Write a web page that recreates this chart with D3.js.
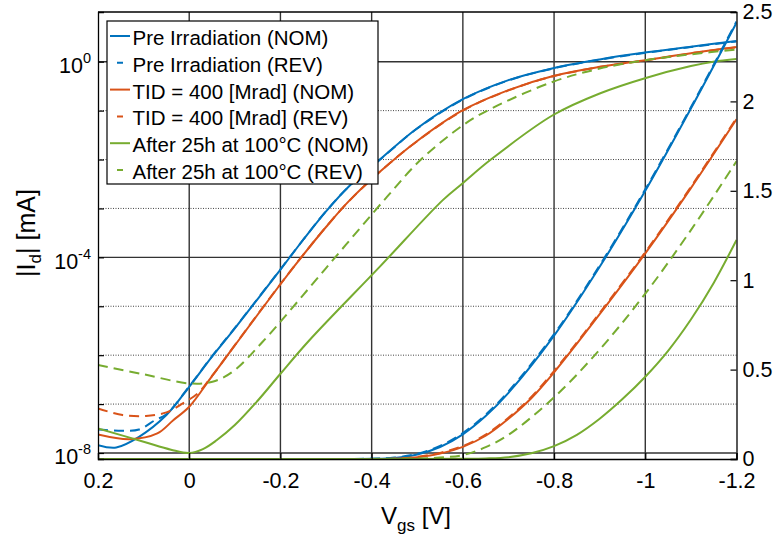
<!DOCTYPE html>
<html>
<head>
<meta charset="utf-8">
<script src="https://cdn.jsdelivr.net/npm/d3@7"></script>
<style>
  body { margin: 0; background: #fff; }
  svg text { font-family: "Liberation Sans", Arial, Helvetica, sans-serif; fill: #000; }
</style>
</head>
<body>
<svg id="chart" width="777" height="540"></svg>
<script>
// ---- data (Vgs in V, Id in mA) ----
var xTicks = [0.2, 0, -0.2, -0.4, -0.6, -0.8, -1, -1.2];
var logTicks = [1e0, 1e-4, 1e-8];
var logMinor = [1e-1, 1e-2, 1e-3, 1e-5, 1e-6, 1e-7];
var linTicks = [0, 0.5, 1, 1.5, 2, 2.5];

var legendLabels = [
  'Pre Irradiation (NOM)',
  'Pre Irradiation (REV)',
  'TID = 400 [Mrad] (NOM)',
  'TID = 400 [Mrad] (REV)',
  'After 25h at 100\u00B0C (NOM)',
  'After 25h at 100\u00B0C (REV)'
];

// log scale (left axis)
var vPreNomLog = [0.2, 0.16, 0.11, 0.05, 0.0, -0.05, -0.1, -0.2, -0.25, -0.3, -0.35, -0.418, -0.5, -0.601, -0.7, -0.798, -0.9, -1.003, -1.1, -1.2];
var iPreNomLog = [1.45e-8, 1.30e-8, 2.14e-8, 5.96e-8, 2.26e-7, 9.33e-7, 3.55e-6, 5.62e-5, 2.29e-4, 8.71e-4, 2.82e-3, 1.0e-2, 4.37e-2, 0.173, 0.42, 0.738, 1.114, 1.552, 2.03, 2.64];

var vPreRevLog = [0.2, 0.146, 0.11, 0.075, 0.05, 0.0, -0.05, -0.1, -0.2, -0.25, -0.3, -0.35, -0.418, -0.5, -0.601, -0.7, -0.798, -0.9, -1.003, -1.1, -1.2];
var iPreRevLog = [3.02e-8, 2.84e-8, 3.02e-8, 4.68e-8, 6.2e-8, 2.3e-7, 9.5e-7, 3.6e-6, 5.7e-5, 2.3e-4, 8.8e-4, 2.8e-3, 9.9e-3, 4.3e-2, 0.170, 0.414, 0.728, 1.10, 1.53, 2.0, 2.60];

var vTidNomLog = [0.2, 0.13, 0.07, 0.035, 0.0, -0.05, -0.1, -0.2, -0.25, -0.3, -0.35, -0.418, -0.5, -0.601, -0.7, -0.798, -0.9, -1.003, -1.1, -1.2];
var iTidNomLog = [2.40e-8, 1.92e-8, 2.51e-8, 4.68e-8, 8.81e-8, 3.72e-7, 1.58e-6, 2.82e-5, 1.12e-4, 4.17e-4, 1.41e-3, 5.62e-3, 2.40e-2, 0.103, 0.263, 0.511, 0.785, 1.084, 1.496, 1.995];

var vTidRevLog = [0.2, 0.146, 0.095, 0.05, 0.015, -0.02, -0.05, -0.1, -0.2, -0.25, -0.3, -0.35, -0.418, -0.5, -0.601, -0.7, -0.798, -0.9, -1.003, -1.1, -1.2];
var iTidRevLog = [8.13e-8, 5.96e-8, 5.69e-8, 6.76e-8, 1.02e-7, 1.70e-7, 3.76e-7, 1.6e-6, 2.85e-5, 1.13e-4, 4.2e-4, 1.4e-3, 5.6e-3, 2.38e-2, 0.101, 0.259, 0.503, 0.776, 1.07, 1.48, 1.97];

var vAftNomLog = [0.2, 0.1, 0.04, 0.0, -0.03, -0.06, -0.1, -0.15, -0.2, -0.264, -0.418, -0.556, -0.601, -0.66, -0.798, -0.9, -1.003, -1.1, -1.149, -1.2];
var iAftNomLog = [3.18e-8, 1.70e-8, 1.17e-8, 1.0e-8, 1.20e-8, 1.82e-8, 3.72e-8, 1.17e-7, 4.17e-7, 2.04e-6, 6.46e-5, 1.48e-3, 3.36e-3, 9.77e-3, 8.13e-2, 0.224, 0.471, 0.813, 1.0, 1.135];

var vAftRevLog = [0.2, 0.1, 0.0, -0.051, -0.095, -0.161, -0.3, -0.434, -0.507, -0.601, -0.659, -0.798, -0.9, -1.003, -1.1, -1.2];
var iAftRevLog = [6.28e-7, 4.07e-7, 2.65e-7, 2.86e-7, 4.57e-7, 1.88e-6, 6.03e-5, 1.74e-3, 9.77e-3, 5.08e-2, 0.106, 0.390, 0.724, 1.084, 1.413, 1.778];

// linear scale (right axis)
var vPreLin = [0.2, -0.2, -0.4, -0.45, -0.5, -0.55, -0.6, -0.65, -0.7, -0.8, -0.9, -1.0, -1.1, -1.2];
var iPreNomLin = [0, 0, 0.001, 0.006, 0.025, 0.067, 0.138, 0.24, 0.37, 0.69, 1.075, 1.50, 1.96, 2.44];
var iPreRevLin = [0, 0, 0.002, 0.008, 0.029, 0.073, 0.145, 0.248, 0.378, 0.698, 1.083, 1.508, 1.967, 2.447];

var vTidLin = [0.2, -0.2, -0.45, -0.5, -0.55, -0.6, -0.65, -0.7, -0.75, -0.8, -0.9, -1.0, -1.1, -1.2];
var iTidNomLin = [0, 0, 0.001, 0.01, 0.03, 0.068, 0.13, 0.225, 0.34, 0.485, 0.81, 1.15, 1.515, 1.90];
var iTidRevLin = [0, 0, 0.002, 0.012, 0.034, 0.073, 0.136, 0.231, 0.347, 0.492, 0.817, 1.157, 1.522, 1.907];

var vAftNomLin = [0.2, -0.5, -0.6, -0.65, -0.7, -0.75, -0.8, -0.85, -0.9, -0.95, -1.0, -1.05, -1.1, -1.15, -1.2];
var iAftNomLin = [0, 0, 0.001, 0.003, 0.010, 0.032, 0.072, 0.135, 0.225, 0.335, 0.46, 0.605, 0.78, 0.985, 1.225];

var vAftRevLin = [0.2, -0.3, -0.5, -0.55, -0.6, -0.65, -0.7, -0.8, -0.9, -1.0, -1.1, -1.2];
var iAftRevLin = [0, 0, 0.003, 0.008, 0.022, 0.066, 0.135, 0.345, 0.612, 0.925, 1.28, 1.665];

// ---- chart ----
function drawChart() {
  var blue = '#0072BD', orange = '#D95319', green = '#77AC30';
  var dash = '10,6';

  var svg = d3.select('#chart');
  var m = { left: 98, right: 736.5, top: 12, bottom: 459 };

  var x = d3.scaleLinear().domain([0.2, -1.2]).range([m.left, m.right]);
  var yLog = d3.scaleLog().domain([Math.pow(10, -8.1227), Math.pow(10, 1.0161)]).range([m.bottom, m.top]);
  var yLin = d3.scaleLinear().domain([0, 2.5]).range([m.bottom, m.top]);

  function zip(v, i) { return v.map(function(d, k) { return [d, i[k]]; }); }

  var series = [
    { v: vPreNomLog, i: iPreNomLog, y: yLog, color: blue, dash: null },
    { v: vPreRevLog, i: iPreRevLog, y: yLog, color: blue, dash: dash },
    { v: vTidNomLog, i: iTidNomLog, y: yLog, color: orange, dash: null },
    { v: vTidRevLog, i: iTidRevLog, y: yLog, color: orange, dash: dash },
    { v: vAftNomLog, i: iAftNomLog, y: yLog, color: green, dash: null },
    { v: vAftRevLog, i: iAftRevLog, y: yLog, color: green, dash: dash },
    { v: vPreLin, i: iPreNomLin, y: yLin, color: blue, dash: null },
    { v: vPreLin, i: iPreRevLin, y: yLin, color: blue, dash: dash },
    { v: vTidLin, i: iTidNomLin, y: yLin, color: orange, dash: null },
    { v: vTidLin, i: iTidRevLin, y: yLin, color: orange, dash: dash },
    { v: vAftNomLin, i: iAftNomLin, y: yLin, color: green, dash: null },
    { v: vAftRevLin, i: iAftRevLin, y: yLin, color: green, dash: dash }
  ];

  svg.append('defs').append('clipPath').attr('id', 'plotclip')
    .append('rect')
      .attr('x', m.left).attr('y', m.top - 2)
      .attr('width', m.right - m.left).attr('height', m.bottom - m.top + 3);

  // grid
  var grid = svg.append('g').attr('class', 'grid');
  grid.selectAll('.vgrid')
    .data(xTicks.slice(1, -1))
    .enter().append('line')
      .attr('x1', function(d) { return x(d); })
      .attr('x2', function(d) { return x(d); })
      .attr('y1', m.top).attr('y2', m.bottom)
      .attr('stroke', '#333').attr('stroke-width', 1.4);

  grid.selectAll('.hmajor')
    .data(logTicks)
    .enter().append('line')
      .attr('x1', m.left).attr('x2', m.right)
      .attr('y1', function(d) { return yLog(d); })
      .attr('y2', function(d) { return yLog(d); })
      .attr('stroke', '#333').attr('stroke-width', 1.4);

  grid.selectAll('.hminor')
    .data(logMinor)
    .enter().append('line')
      .attr('x1', m.left).attr('x2', m.right)
      .attr('y1', function(d) { return yLog(d); })
      .attr('y2', function(d) { return yLog(d); })
      .attr('stroke', '#444').attr('stroke-width', 1)
      .attr('stroke-dasharray', '1,1.5');

  // curves
  var plot = svg.append('g').attr('clip-path', 'url(#plotclip)');
  series.forEach(function(s) {
    var line = d3.line()
      .x(function(d) { return x(d[0]); })
      .y(function(d) { return s.y(d[1]); })
      .curve(d3.curveCatmullRom.alpha(0.5));
    plot.append('path')
      .datum(zip(s.v, s.i))
      .attr('fill', 'none')
      .attr('stroke', s.color)
      .attr('stroke-width', 2)
      .attr('stroke-dasharray', s.dash)
      .attr('d', line);
  });

  // axes
  var fmtX = function(d) { return d === 0 ? '0' : String(+d.toFixed(1)); };

  var xAxis = svg.append('g')
    .attr('transform', 'translate(0,' + m.bottom + ')')
    .call(d3.axisBottom(x).tickValues(xTicks).tickFormat(fmtX).tickSize(-6).tickPadding(14));

  var yAxisL = svg.append('g')
    .attr('transform', 'translate(' + m.left + ',0)')
    .call(d3.axisLeft(yLog).tickValues(logTicks.concat(logMinor)).tickFormat('').tickSize(-6));

  var yAxisR = svg.append('g')
    .attr('transform', 'translate(' + m.right + ',0)')
    .call(d3.axisRight(yLin).tickValues(linTicks).tickFormat(function(d) { return String(d); }).tickSize(-6).tickPadding(6));

  [xAxis, yAxisL, yAxisR].forEach(function(a) {
    a.selectAll('.domain').attr('stroke', '#000').attr('stroke-width', 1.3);
    a.selectAll('.tick line').attr('stroke', '#000').attr('stroke-width', 1.2);
    a.selectAll('text').attr('font-size', 21.5).attr('fill', '#000')
      .attr('font-family', '"Liberation Sans", Arial, sans-serif');
  });

  // top box edge
  svg.append('line')
    .attr('x1', m.left).attr('x2', m.right).attr('y1', m.top).attr('y2', m.top)
    .attr('stroke', '#000').attr('stroke-width', 1.3);

  // left tick labels with superscripts
  var powLabels = svg.append('g');
  logTicks.forEach(function(d) {
    var t = powLabels.append('text')
      .attr('x', 91)
      .attr('y', yLog(d) + 11.5)
      .attr('text-anchor', 'end')
      .attr('font-size', 21.5);
    t.append('tspan').text('10');
    t.append('tspan')
      .attr('dy', -10)
      .attr('font-size', 14.5)
      .text(String(Math.round(Math.log10(d))));
  });

  // axis labels
  var yl = svg.append('text')
    .attr('transform', 'translate(35,233) rotate(-90)')
    .attr('text-anchor', 'middle')
    .attr('font-size', 25);
  yl.append('tspan').text('|I');
  yl.append('tspan').attr('dy', 6).attr('font-size', 17).text('d');
  yl.append('tspan').attr('dy', -6).text('| [mA]');

  var xl = svg.append('text')
    .attr('x', 416).attr('y', 524)
    .attr('text-anchor', 'middle')
    .attr('font-size', 24);
  xl.append('tspan').text('V');
  xl.append('tspan').attr('dy', 7).attr('font-size', 17).text('gs');
  xl.append('tspan').attr('dy', -7).text(' [V]');

  // legend
  var legend = svg.append('g');
  legend.append('rect')
    .attr('x', 107).attr('y', 21)
    .attr('width', 271).attr('height', 163)
    .attr('fill', '#fff').attr('stroke', '#000').attr('stroke-width', 1.2);

  var legendColors = [blue, blue, orange, orange, green, green];
  legendLabels.forEach(function(label, k) {
    var ly = 36 + k * 26.8;
    legend.append('line')
      .attr('x1', 110).attr('x2', 130)
      .attr('y1', ly).attr('y2', ly)
      .attr('stroke', legendColors[k])
      .attr('stroke-width', 2)
      .attr('stroke-dasharray', k % 2 ? '0,7,6,7' : null);
    legend.append('text')
      .attr('x', 132.5).attr('y', ly + 9)
      .attr('font-size', 20.5)
      .text(label);
  });
}

drawChart();
</script>
</body>
</html>
